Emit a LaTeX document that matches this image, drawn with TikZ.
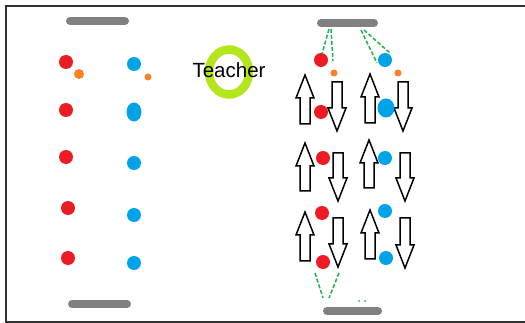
\documentclass[tikz,border=0pt]{standalone}
\usepackage{fontspec}
\setmainfont{Liberation Sans}
\usetikzlibrary{shapes.geometric}
\definecolor{pred}{RGB}{237,28,36}
\definecolor{pblue}{RGB}{0,162,232}
\definecolor{porange}{RGB}{255,127,39}
\definecolor{pgreen}{RGB}{34,177,76}
\definecolor{plime}{RGB}{181,230,29}
\definecolor{pgray}{RGB}{128,128,128}
\tikzset{
  bar/.style={pgray,line width=8pt,line cap=round},
  reddot/.style={circle,fill=pred,inner sep=0pt,minimum size=14pt},
  bluedot/.style={circle,fill=pblue,inner sep=0pt,minimum size=14pt},
  orangedot/.style={circle,fill=porange,inner sep=0pt,minimum size=#1},
  stringline/.style={pgreen,line width=1.5pt,dash pattern=on 4pt off 2pt},
  arrowline/.style={draw=black,line width=1.5pt,fill=white,line join=miter},
  framel/.style={line width=2pt,draw=black!80}
}
\newcommand\UpArr[3]{\draw[arrowline] (#1,#2) -- (#1+9,#2+23) -- (#1+5,#2+23) -- (#1+5,#3) -- (#1-5,#3) -- (#1-5,#2+23) -- (#1-9,#2+23) -- cycle;}
\newcommand\DownArr[3]{\draw[arrowline] (#1-5,#2) -- (#1+5,#2) -- (#1+5,#3-23) -- (#1+9,#3-23) -- (#1,#3) -- (#1-9,#3-23) -- (#1-5,#3-23) -- cycle;}
\begin{document}
\begin{tikzpicture}[x=1pt,y=-1pt]
\useasboundingbox (0,0) rectangle (525,323);
\fill[white] (0,0) rectangle (525,323);
% frame
\draw[framel] (525,6) -- (5.5,6) -- (5.5,322) -- (525,322);
% left panel
\draw[bar] (70,21) -- (125,21);
\draw[bar] (72,304) -- (127,304);
\node[reddot] (r1) at (66,62) {};
\node[reddot] (r2) at (66,110) {};
\node[reddot] (r3) at (66,157) {};
\node[reddot] (r4) at (68,208) {};
\node[reddot] (r5) at (68,258) {};
\node[orangedot=10pt] (o1) at (79,74) {};
\node[bluedot] (b1) at (134,64) {};
\node[bluedot,ellipse,minimum width=15pt,minimum height=19pt] (b2) at (134,112) {};
\node[bluedot] (b3) at (134,163) {};
\node[bluedot] (b4) at (134,215) {};
\node[bluedot] (b5) at (134,263) {};
\node[orangedot=7pt] (o2) at (148,77) {};
% teacher
\draw[plime,line width=8.5pt] (229,72) ellipse [x radius=20,y radius=22.5];
\node[font=\fontsize{20.5}{20.5}\selectfont,inner sep=0pt] (teacher) at (229,70) {Teacher};
% right panel
\draw[bar] (321,23) -- (374,23);
\draw[bar] (327,311) -- (378,311);
\node[reddot] (rr1) at (321,60) {};
\node[bluedot] (bb1) at (385,60) {};
\node[orangedot=7pt] (oo1) at (334,73) {};
\node[orangedot=7pt] (oo2) at (398,73) {};
\coordinate (s1) at (329,29);
\coordinate (s2) at (331,29);
\coordinate (s3) at (361,30);
\coordinate (s4) at (364,30);
\draw[stringline] (s1) -- (322,54);
\draw[stringline] (s2) -- (333,61);
\draw[stringline] (s3) -- (377,63);
\draw[stringline] (s4) -- (390,53);
% row 1
\UpArr{305}{75}{124}
\DownArr{337}{82}{131}
\UpArr{370}{74}{123}
\DownArr{403}{82}{131}
\node[reddot] (rr2) at (321,112) {};
\node[bluedot,ellipse,minimum width=17pt,minimum height=19pt] (bb2) at (386,108) {};
% row 2
\UpArr{305}{143}{191}
\DownArr{338}{153}{201}
\UpArr{369}{140}{188}
\DownArr{405}{153}{201}
\node[reddot] (rr3) at (323,158) {};
\node[bluedot] (bb3) at (385,158) {};
% row 3
\UpArr{305}{212}{261}
\DownArr{338}{218}{267}
\UpArr{370}{210}{259}
\DownArr{405}{218}{268}
\node[reddot] (rr4) at (322,213) {};
\node[reddot] (rr5) at (323,262) {};
\node[bluedot] (bb4) at (385,211) {};
\node[bluedot] (bb5) at (386,258) {};
% bottom strings
\coordinate (t1) at (315,273);
\coordinate (t2) at (339,273);
\draw[stringline] (t1) -- (323,298);
\draw[stringline] (t2) -- (329,298);
\fill[pgreen] (359,301) circle (1);
\fill[pgreen] (365,301) circle (1);
\end{tikzpicture}
\end{document}
